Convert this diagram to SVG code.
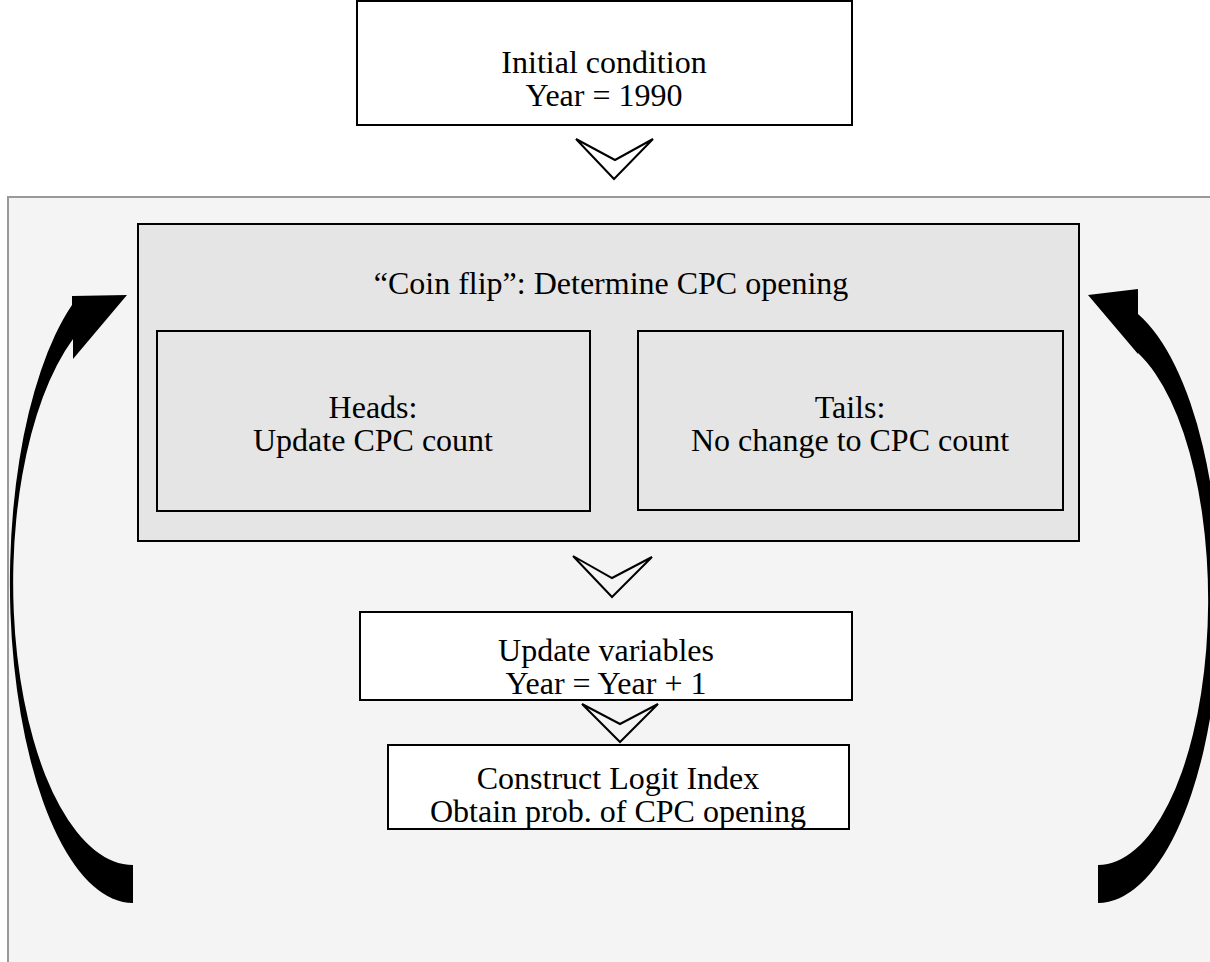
<svg xmlns="http://www.w3.org/2000/svg" width="1210" height="962" viewBox="0 0 1210 962">
<style>
text{font-family:"Liberation Serif","Times New Roman",serif;font-size:32px;fill:#000;text-anchor:middle}
.box{stroke:#000;stroke-width:2}
.chev{fill:none;stroke:#000;stroke-width:2;stroke-linejoin:miter}
.curve{fill:#000;stroke:none}
</style>
<rect x="0" y="0" width="1210" height="962" fill="#fff"/>
<g id="loop-panel"><rect x="8" y="197" width="1220" height="800" fill="#f4f4f4" stroke="#999" stroke-width="2"/></g>
<g id="initial"><rect class="box" x="357" y="1" width="495" height="124" fill="#fff"/>
<text x="604" y="73">Initial condition<tspan x="604" dy="33">Year = 1990</tspan></text></g>
<g id="coinflip"><rect class="box" x="138" y="224" width="941" height="317" fill="#e5e5e5"/>
<text x="611" y="294">“Coin flip”: Determine CPC opening</text></g>
<g id="heads"><rect class="box" x="157" y="331" width="433" height="180" fill="#e5e5e5"/>
<text x="373" y="418">Heads:<tspan x="373" dy="33">Update CPC count</tspan></text></g>
<g id="tails"><rect class="box" x="638" y="331" width="425" height="179" fill="#e5e5e5"/>
<text x="850" y="418">Tails:<tspan x="850" dy="33">No change to CPC count</tspan></text></g>
<g id="update"><rect class="box" x="360" y="612" width="492" height="88" fill="#fff"/>
<text x="606" y="661">Update variables<tspan x="606" dy="33">Year = Year + 1</tspan></text></g>
<g id="logit"><rect class="box" x="388" y="745" width="461" height="84" fill="#fff"/>
<text x="618" y="789">Construct Logit Index<tspan x="618" dy="33">Obtain prob. of CPC opening</tspan></text></g>
<g id="connectors">
<path class="chev" d="M576 139 L615 160 L653 139 L614 179 Z"/>
<path class="chev" d="M573 556 L612 578 L652 557 L612 597 Z"/>
<path class="chev" d="M582 704 L620 724 L658 704 L620 742 Z"/>
<path class="curve" d="M133 903 A123 320 0 0 1 72 305 L72 296 L127 295 L73 359 L73 339 A120 282 0 0 0 133 865 Z"/>
<path class="curve" d="M1098 903 A122 303 0 0 0 1138 314 L1138 289 L1088 295 L1138 354 L1138 353 A110 265 0 0 1 1098 865 Z"/>
</g>
</svg>
